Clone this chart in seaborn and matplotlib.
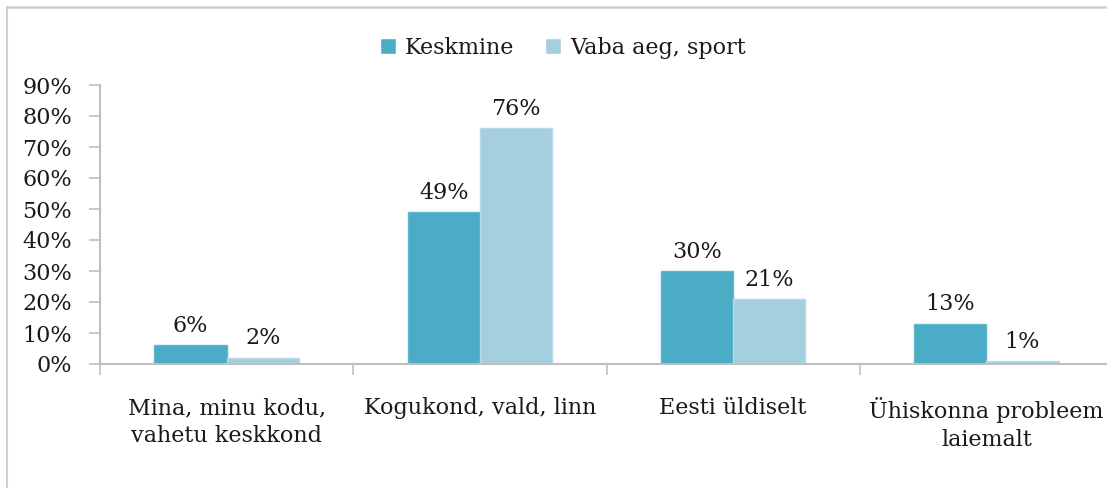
import matplotlib
matplotlib.use("Agg")
import matplotlib.pyplot as plt
import matplotlib.patches as mpatches
from matplotlib.lines import Line2D
from matplotlib.ticker import FixedLocator, PercentFormatter
import pandas as pd
import seaborn as sns

categories = ["Mina, minu kodu,\nvahetu keskkond", "Kogukond, vald, linn",
              "Eesti üldiselt", "Ühiskonna probleem\nlaiemalt"]
series = ["Keskmine", "Vaba aeg, sport"]
keskmine = [6, 49, 30, 13]
vaba_aeg = [2, 76, 21, 1]
yticks = [0, 10, 20, 30, 40, 50, 60, 70, 80, 90]

colors = ["#4BACC6", "#A5CFDF"]

df = pd.DataFrame({
    "kategooria": categories * 2,
    "seeria": [series[0]] * 4 + [series[1]] * 4,
    "vaartus": keskmine + vaba_aeg,
})

sns.set_style("white")
plt.rcParams["font.family"] = ["DejaVu Serif"]

fig = plt.figure(figsize=(11.07, 4.88), dpi=100)
ax = fig.add_axes([100 / 1107, 124 / 488, 1013 / 1107, 279 / 488])

sns.barplot(data=df, x="kategooria", y="vaartus", hue="seeria",
            palette=colors, saturation=1, width=0.57, ax=ax, legend=False)

for cont, col in zip(ax.containers, ["#5FB6CD", "#B8DAE7"]):
    for b in cont:
        b.set_edgecolor(col)
        b.set_linewidth(1)
    ax.bar_label(cont, labels=[f"{v:.0f}%" for v in cont.datavalues],
                 padding=6, fontsize=16, color="#1a1a1a")

ax.set_ylim(0, 90)
ax.set_xlim(-0.5, 3.5)
ax.set_yticks(yticks)
ax.yaxis.set_major_formatter(PercentFormatter(decimals=0))
ax.set_xlabel("")
ax.set_ylabel("")

ax.xaxis.set_minor_locator(FixedLocator([-0.5, 0.5, 1.5, 2.5, 3.5]))
ax.tick_params(axis="x", which="major", length=0, pad=24, labelsize=16,
               labelcolor="#1a1a1a")
for lbl in ax.get_xticklabels():
    lbl.set_linespacing(1.35)
ax.tick_params(axis="x", which="minor", length=8, color="#BFBFBF", width=1.2,
               direction="out", bottom=True)
ax.tick_params(axis="y", length=8, color="#BFBFBF", width=1.2, direction="out",
               left=True, labelsize=16, labelcolor="#1a1a1a", pad=12)

for s in ["top", "right"]:
    ax.spines[s].set_visible(False)
for s in ["left", "bottom"]:
    ax.spines[s].set_color("#BFBFBF")
    ax.spines[s].set_linewidth(1.5)

handles = [mpatches.Patch(facecolor=c, edgecolor="#ffffff", label=l)
           for c, l in zip(colors, series)]
fig.legend(handles=handles, loc="center", bbox_to_anchor=(563 / 1107, 1 - 48 / 488),
           ncol=2, frameon=False, fontsize=16, handlelength=0.7,
           handleheight=0.7, handletextpad=0.4, columnspacing=1.4,
           labelcolor="#1a1a1a")

# page frame (top and left edges only)
fx, fy = 7 / 1107, 1 - 7 / 488
fig.lines.append(Line2D([fx, 1], [fy, fy], transform=fig.transFigure,
                        color="#D0D0D0", linewidth=1.8))
fig.lines.append(Line2D([fx, fx], [0, fy], transform=fig.transFigure,
                        color="#D0D0D0", linewidth=1.5))

fig.savefig("out.png", dpi=100)
